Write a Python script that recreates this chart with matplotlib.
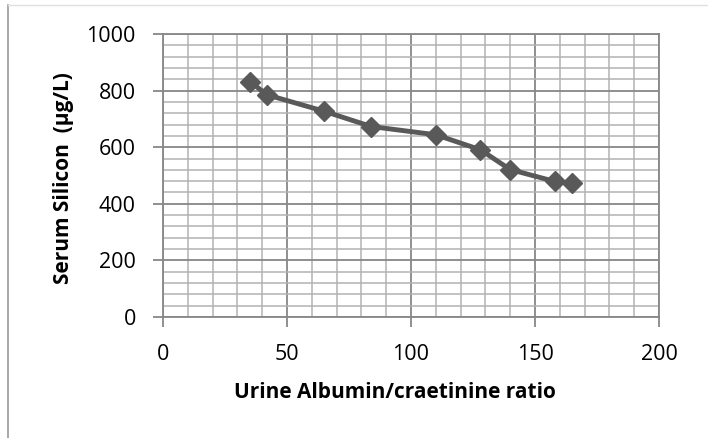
import numpy as np
import matplotlib
matplotlib.use("Agg")
import matplotlib.pyplot as plt
from matplotlib.ticker import MultipleLocator
from matplotlib.lines import Line2D

# values
albumin_ratio = [35, 42, 65, 84, 110, 128, 140, 158, 165]
serum_silicon = [832, 785, 727, 673, 644, 591, 521, 479, 473]

x_label = "Urine Albumin/craetinine ratio"
y_label = "Serum Silicon  (\u00b5g/L)"

plt.rcParams['font.family'] = ['Open Sans', 'DejaVu Sans']

W, H = 708, 438
fig = plt.figure(figsize=(W / 100, H / 100), dpi=100)

# plot area in pixels: left 163, right 659, top 34, bottom 317
ax = fig.add_axes([163 / W, 1 - 317 / H, (659 - 163) / W, (317 - 34) / H])

major_c = "#878787"
minor_c = "#b3b3b3"

ax.set_xlim(0, 200)
ax.set_ylim(0, 1000)
ax.xaxis.set_major_locator(MultipleLocator(50))
ax.xaxis.set_minor_locator(MultipleLocator(10))
ax.yaxis.set_major_locator(MultipleLocator(200))
ax.yaxis.set_minor_locator(MultipleLocator(40))

ax.grid(which="minor", color=minor_c, linewidth=1.1)
ax.grid(which="major", color=major_c, linewidth=1.3)
ax.set_axisbelow(True)

for s in ax.spines.values():
    s.set_color(major_c)
    s.set_linewidth(1.3)

ax.tick_params(which="major", length=7, width=1.3, color=major_c,
               labelsize=15.5, labelcolor="black")
ax.tick_params(which="minor", length=0)
ax.tick_params(axis="y", pad=12.5)
ax.tick_params(axis="x", pad=12.5)

ax.plot(albumin_ratio, serum_silicon, color="#595959", linewidth=3.5,
        marker="D", markersize=10, markerfacecolor="#595959",
        markeredgecolor="#595959", zorder=3, clip_on=False)

fig.text(395 / W, 1 - 392 / H, x_label, ha="center", va="center",
         fontsize=15, fontweight="bold")
fig.text(64 / W, 1 - 178 / H, y_label, ha="center", va="center",
         rotation=90, fontsize=15, fontweight="bold")

# chart border remnants (left and top)
fig.add_artist(Line2D([8 / W, 8 / W], [0, 1 - 5 / H], transform=fig.transFigure,
                      color="#9a9a9a", linewidth=1.2))
fig.add_artist(Line2D([8 / W, 1], [1 - 5 / H, 1 - 5 / H], transform=fig.transFigure,
                      color="#e0e0e0", linewidth=1.0))

fig.savefig("out.png", dpi=100, facecolor="white")
